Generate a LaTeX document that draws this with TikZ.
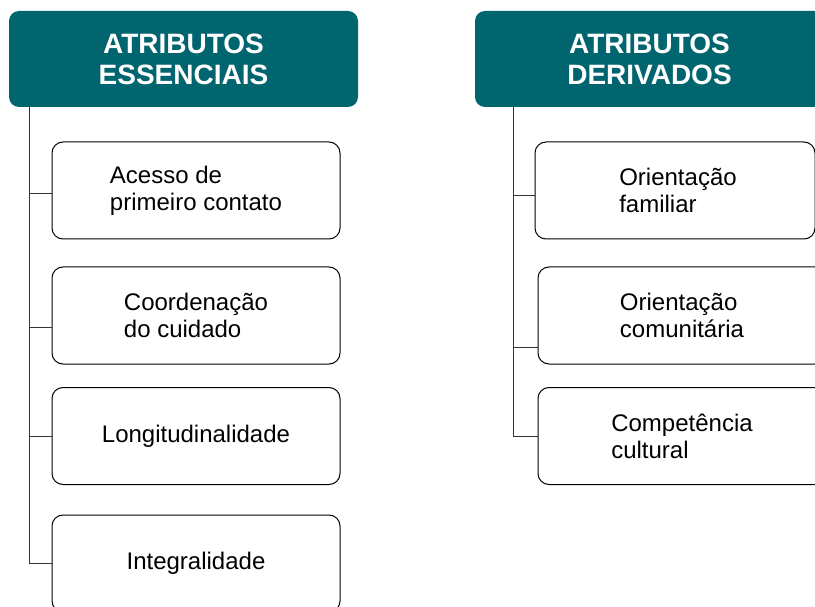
\documentclass[tikz,border=0pt]{standalone}
\usepackage{fontspec}
\setmainfont{Liberation Sans}
\definecolor{headteal}{HTML}{00656F}
\begin{document}
\begin{tikzpicture}[x=1pt, y=-1pt,
        header/.style={fill=headteal, rounded corners=10pt, text=white, font=\fontsize{28}{31}\selectfont\bfseries, align=center, minimum width=349pt, minimum height=96pt, inner sep=0pt},
        item/.style={draw, line width=1pt, rounded corners=11pt, font=\fontsize{24}{27}\selectfont, align=left, minimum width=288pt, minimum height=97pt, inner sep=0pt},
        link/.style={draw=black!80, line width=1pt}]
        \useasboundingbox (0,0) rectangle (815,607);
        \clip (0,0) rectangle (815,607);
        \node[name=ess, header] at (183.5,59) {ATRIBUTOS\\ESSENCIAIS};
        \node[name=der, header] at (649.5,59) {ATRIBUTOS\\DERIVADOS};
        \node[name=acesso, item] at (196,190.5) {Acesso de\\primeiro contato};
        \node[name=coord, item] at (196,315.5) {Coordenação\\do cuidado};
        \node[name=longi, item] at (196,436) {Longitudinalidade};
        \node[name=integ, item] at (196,563.5) {Integralidade};
        \node[name=famil, item, minimum width=280pt] at (675,190.5) {\hspace*{6pt}Orientação\\\hspace*{6pt}familiar};
        \node[name=comun, item] at (682,315.5) {Orientação\\comunitária};
        \node[name=cultur, item] at (682,436) {Competência\\cultural};
        \coordinate (essroot) at (29,107);
        \coordinate (derroot) at (513,107);
        \draw[link] (essroot) |- ([yshift=-3.5pt]acesso.west);
        \draw[link] (essroot) |- ([yshift=-12pt]coord.west);
        \draw[link] (essroot) |- (longi.west);
        \draw[link] (essroot) |- (integ.west);
        \draw[link] (derroot) |- ([yshift=-5.5pt]famil.west);
        \draw[link] (derroot) |- ([yshift=-31.5pt]comun.west);
        \draw[link] (derroot) |- (cultur.west);
    \end{tikzpicture}
\end{document}
